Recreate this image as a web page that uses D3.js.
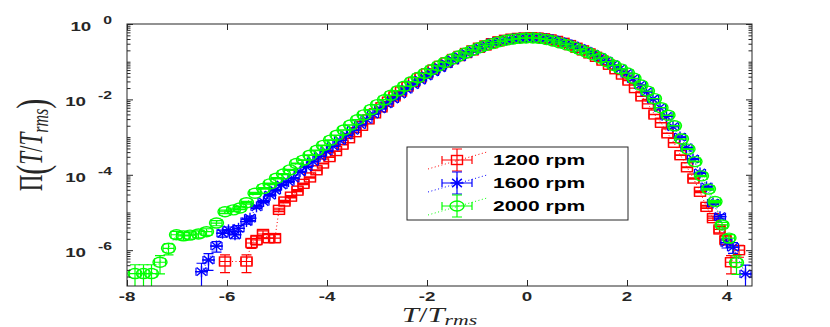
<!DOCTYPE html>
<html><head><meta charset="utf-8">
<script src="https://cdn.jsdelivr.net/npm/d3@7"></script>
<style>body{margin:0;background:#fff;} svg{display:block;}</style>
</head><body>
<svg id="chart" width="830" height="327"></svg>
<script>
// ---------------- DATA ----------------
const seriesNames = ["1200 rpm", "1600 rpm", "2000 rpm"];
const seriesColors = ["#ff0000", "#0000ff", "#00ff00"];
const seriesMarkers = ["square", "asterisk", "circle"];
const xTickValues = [-8, -6, -4, -2, 0, 2, 4];
const yTickExponents = [0, -2, -4, -6];

// T/T_rms and log10 of PDF for each series
const x1200 = [-6.04,-5.61,-5.51,-5.41,-5.28,-5.17,-5.04,-4.96,-4.85,-4.72,-4.59,-4.47,-4.34,-4.21,-4.08,-3.95,-3.82,-3.69,-3.56,-3.43,-3.30,-3.17,-3.04,-2.91,-2.78,-2.65,-2.52,-2.39,-2.26,-2.13,-2.00,-1.87,-1.74,-1.61,-1.48,-1.35,-1.22,-1.09,-0.96,-0.83,-0.70,-0.57,-0.44,-0.31,-0.18,-0.05,0.08,0.21,0.34,0.47,0.60,0.73,0.86,0.99,1.12,1.25,1.38,1.51,1.64,1.77,1.90,2.03,2.16,2.29,2.42,2.55,2.68,2.81,2.94,3.07,3.20,3.33,3.46,3.59,3.72,3.85,3.97,4.08,4.24];
const logPdf1200 = [-6.30,-6.30,-5.81,-5.73,-5.57,-5.68,-5.68,-4.93,-4.71,-4.58,-4.42,-4.24,-4.07,-3.88,-3.70,-3.53,-3.37,-3.20,-3.03,-2.87,-2.70,-2.53,-2.37,-2.21,-2.06,-1.92,-1.79,-1.66,-1.54,-1.42,-1.31,-1.21,-1.11,-1.02,-0.93,-0.85,-0.77,-0.70,-0.63,-0.57,-0.51,-0.46,-0.42,-0.39,-0.37,-0.36,-0.35,-0.36,-0.38,-0.41,-0.45,-0.50,-0.56,-0.63,-0.70,-0.78,-0.87,-0.97,-1.08,-1.20,-1.34,-1.50,-1.70,-1.92,-2.12,-2.40,-2.62,-2.90,-3.15,-3.48,-3.80,-4.10,-4.45,-4.85,-5.15,-5.45,-5.73,-6.32,-6.00];

const x1600 = [-6.51,-6.37,-6.21,-6.09,-5.97,-5.84,-5.77,-5.61,-5.54,-5.41,-5.27,-5.14,-5.04,-4.91,-4.77,-4.67,-4.54,-4.41,-4.28,-4.14,-4.01,-3.88,-3.74,-3.61,-3.48,-3.34,-3.21,-3.08,-2.94,-2.81,-2.68,-2.54,-2.41,-2.28,-2.14,-2.01,-1.88,-1.74,-1.61,-1.48,-1.34,-1.21,-1.08,-0.94,-0.81,-0.68,-0.54,-0.41,-0.28,-0.14,-0.01,0.12,0.26,0.39,0.52,0.66,0.79,0.92,1.06,1.19,1.32,1.46,1.59,1.72,1.86,1.99,2.12,2.26,2.39,2.52,2.66,2.79,2.92,3.06,3.19,3.32,3.46,3.59,3.72,3.86,3.99,4.12,4.37];
const logPdf1600 = [-6.57,-6.26,-5.89,-5.55,-5.46,-5.59,-5.42,-5.24,-5.15,-4.85,-4.71,-4.54,-4.41,-4.27,-4.18,-4.09,-3.92,-3.79,-3.65,-3.51,-3.37,-3.24,-3.09,-2.95,-2.82,-2.67,-2.53,-2.39,-2.25,-2.12,-1.99,-1.86,-1.73,-1.61,-1.49,-1.38,-1.27,-1.16,-1.06,-0.96,-0.87,-0.78,-0.70,-0.63,-0.56,-0.50,-0.46,-0.42,-0.39,-0.37,-0.36,-0.36,-0.37,-0.39,-0.42,-0.47,-0.52,-0.58,-0.65,-0.72,-0.80,-0.89,-0.98,-1.08,-1.19,-1.31,-1.45,-1.62,-1.80,-1.99,-2.22,-2.45,-2.72,-3.00,-3.28,-3.58,-3.95,-4.32,-4.75,-5.11,-5.80,-5.92,-6.63];

const x2000 = [-7.84,-7.67,-7.51,-7.34,-7.17,-7.01,-6.87,-6.74,-6.57,-6.41,-6.21,-6.04,-5.87,-5.74,-5.61,-5.44,-5.27,-5.14,-5.01,-4.87,-4.74,-4.61,-4.47,-4.34,-4.20,-4.07,-3.93,-3.80,-3.66,-3.53,-3.39,-3.26,-3.12,-2.99,-2.85,-2.72,-2.58,-2.45,-2.31,-2.18,-2.04,-1.91,-1.77,-1.64,-1.50,-1.37,-1.23,-1.10,-0.96,-0.83,-0.69,-0.56,-0.42,-0.29,-0.15,-0.02,0.12,0.25,0.39,0.52,0.66,0.79,0.93,1.06,1.20,1.33,1.47,1.60,1.74,1.87,2.01,2.14,2.28,2.41,2.55,2.68,2.82,2.95,3.09,3.22,3.36,3.49,3.63,3.76,3.90,4.04,4.19];
const logPdf2000 = [-6.62,-6.62,-6.62,-6.32,-5.95,-5.59,-5.62,-5.60,-5.57,-5.51,-5.28,-4.98,-4.93,-4.88,-4.74,-4.49,-4.36,-4.24,-4.09,-3.98,-3.87,-3.70,-3.61,-3.48,-3.35,-3.22,-3.08,-2.95,-2.81,-2.68,-2.54,-2.41,-2.27,-2.14,-2.01,-1.89,-1.77,-1.65,-1.53,-1.42,-1.31,-1.21,-1.11,-1.02,-0.93,-0.85,-0.77,-0.70,-0.63,-0.57,-0.52,-0.47,-0.43,-0.40,-0.38,-0.37,-0.37,-0.38,-0.41,-0.45,-0.50,-0.55,-0.61,-0.68,-0.75,-0.82,-0.90,-1.00,-1.10,-1.19,-1.30,-1.44,-1.62,-1.78,-1.98,-2.22,-2.42,-2.70,-3.05,-3.32,-3.65,-4.03,-4.38,-4.71,-5.33,-5.68,-6.33];

const xErrorHalfWidth = 0.11;      // horizontal error bar half width (T/T_rms units)
const yRelErrorCoef = 3.5e-4;      // relative counting error coefficient

// ---------------- LAYOUT ----------------
const plot = {left: 127, right: 752, top: 24, bottom: 286};
const SX = 1.5; // horizontal stretch of the original figure (text & markers)
const axisColor = "#262626";
const sansFont = "'Liberation Sans', Arial, Helvetica, sans-serif";
const serifFont = "'Liberation Serif', 'Times New Roman', 'DejaVu Serif', serif";

const svg = d3.select("#chart");
const x = d3.scaleLinear().domain([-8, 4.5]).range([plot.left, plot.right]);
const y = d3.scaleLog().domain([Math.pow(10, -6.95), 1]).range([plot.bottom, plot.top]);

const series = [
  {name: seriesNames[0], color: seriesColors[0], marker: seriesMarkers[0], xs: x1200, ls: logPdf1200},
  {name: seriesNames[1], color: seriesColors[1], marker: seriesMarkers[1], xs: x1600, ls: logPdf1600},
  {name: seriesNames[2], color: seriesColors[2], marker: seriesMarkers[2], xs: x2000, ls: logPdf2000}
].map(s => ({...s, pts: s.xs.map((v, i) => ({x: v, y: Math.pow(10, s.ls[i])}))}));

svg.append("defs").append("clipPath").attr("id", "clip")
  .append("rect").attr("x", plot.left).attr("y", plot.top)
  .attr("width", plot.right - plot.left).attr("height", plot.bottom - plot.top);

const dataG = svg.append("g").attr("clip-path", "url(#clip)");

function drawMarker(g, type, cx, cy, color) {
  if (type === "square") {
    g.append("rect").attr("x", cx - 5.5).attr("y", cy - 4.5).attr("width", 11).attr("height", 9)
      .attr("fill", "none").attr("stroke", color).attr("stroke-width", 1.4);
  } else if (type === "circle") {
    g.append("ellipse").attr("cx", cx).attr("cy", cy).attr("rx", 7).attr("ry", 5)
      .attr("fill", "none").attr("stroke", color).attr("stroke-width", 1.4);
  } else {
    const rx = 6.5, ry = 5.5;
    const segs = [[-rx, 0, rx, 0], [0, -ry, 0, ry], [-rx * 0.75, -ry * 0.75, rx * 0.75, ry * 0.75], [-rx * 0.75, ry * 0.75, rx * 0.75, -ry * 0.75]];
    segs.forEach(sg => g.append("line").attr("x1", cx + sg[0]).attr("y1", cy + sg[1]).attr("x2", cx + sg[2]).attr("y2", cy + sg[3])
      .attr("stroke", color).attr("stroke-width", 1.4));
  }
}

function drawErrorBars(g, color, cx, cy, xl, xr, yt, yb, capH = 4, capW = 5) {
  const p = d3.path();
  p.moveTo(xl, cy); p.lineTo(xr, cy);
  p.moveTo(xl, cy - capH); p.lineTo(xl, cy + capH);
  p.moveTo(xr, cy - capH); p.lineTo(xr, cy + capH);
  p.moveTo(cx, yt); p.lineTo(cx, yb);
  p.moveTo(cx - capW, yt); p.lineTo(cx + capW, yt);
  p.moveTo(cx - capW, yb); p.lineTo(cx + capW, yb);
  g.append("path").attr("d", p.toString()).attr("fill", "none").attr("stroke", color).attr("stroke-width", 1.2);
}

series.forEach(s => {
  const g = dataG.append("g");
  const line = d3.line().x(d => x(d.x)).y(d => y(d.y));
  g.append("path").attr("d", line(s.pts)).attr("fill", "none").attr("stroke", s.color)
    .attr("stroke-width", 1).attr("stroke-dasharray", "1,2.5");
  s.pts.forEach(d => {
    const rel = Math.min(yRelErrorCoef / Math.sqrt(d.y), 0.75);
    const cx = x(d.x), cy = y(d.y);
    drawErrorBars(g, s.color, cx, cy, x(d.x - xErrorHalfWidth), x(d.x + xErrorHalfWidth),
      y(d.y * (1 + rel)), y(d.y * (1 - rel)));
  });
  s.pts.forEach(d => drawMarker(g, s.marker, x(d.x), y(d.y), s.color));
});

// ---------------- AXES ----------------
const axG = svg.append("g");
axG.append("rect").attr("x", plot.left).attr("y", plot.top)
  .attr("width", plot.right - plot.left).attr("height", plot.bottom - plot.top)
  .attr("fill", "none").attr("stroke", axisColor).attr("stroke-width", 1);

const xAxisB = d3.axisBottom(x).tickValues(xTickValues).tickSize(-6).tickFormat("");
const xAxisT = d3.axisTop(x).tickValues(xTickValues).tickSize(-6).tickFormat("");
[[xAxisB, plot.bottom], [xAxisT, plot.top]].forEach(([ax, yy]) => {
  const g = axG.append("g").attr("transform", `translate(0,${yy})`).call(ax);
  g.select(".domain").remove();
  g.selectAll("line").attr("stroke", axisColor);
});

const decades = d3.range(-7, 1);
const minorVals = [];
decades.forEach(e => { for (let k = 1; k <= 9; k++) { const v = k * Math.pow(10, e); if (v >= y.domain()[0] && v <= 1 && !(k === 1 && yTickExponents.includes(e))) minorVals.push(v); } });
const majorVals = yTickExponents.map(e => Math.pow(10, e));
[[d3.axisLeft, plot.left], [d3.axisRight, plot.right]].forEach(([fn, xx]) => {
  const gMaj = axG.append("g").attr("transform", `translate(${xx},0)`).call(fn(y).tickValues(majorVals).tickSize(-6).tickFormat(""));
  gMaj.select(".domain").remove(); gMaj.selectAll("line").attr("stroke", axisColor);
  const gMin = axG.append("g").attr("transform", `translate(${xx},0)`).call(fn(y).tickValues(minorVals).tickSize(-3.5).tickFormat(""));
  gMin.select(".domain").remove(); gMin.selectAll("line").attr("stroke", axisColor);
});

// x tick labels
xTickValues.forEach(v => {
  svg.append("g").attr("transform", `translate(${x(v)},301) scale(${SX},1)`)
    .append("text").attr("text-anchor", "middle").attr("font-family", sansFont)
    .attr("font-weight", "bold").attr("font-size", 12.5).attr("fill", axisColor).text(String(v));
});

// y tick labels 10^e
yTickExponents.forEach(e => {
  const t = svg.append("g").attr("transform", `translate(112,${y(Math.pow(10, e)) + 7}) scale(${SX},1)`)
    .append("text").attr("text-anchor", "end").attr("font-family", sansFont)
    .attr("font-weight", "bold").attr("fill", axisColor);
  t.append("tspan").attr("font-size", 12.5).text("10");
  t.append("tspan").attr("font-size", 10.5).attr("dx", 8).attr("dy", -7).text(String(e));
});

// x label  T/T_rms
{
  const t = svg.append("g").attr("transform", `translate(${(plot.left + plot.right) / 2},322) scale(${SX},1)`)
    .append("text").attr("text-anchor", "middle").attr("font-family", serifFont).attr("fill", axisColor)
    .attr("font-size", 20.5);
  t.append("tspan").attr("font-style", "italic").text("T");
  t.append("tspan").text("/");
  t.append("tspan").attr("font-style", "italic").text("T");
  t.append("tspan").attr("font-style", "italic").attr("font-size", 14.5).attr("dy", 3).text("rms");
}

// y label  Π(T/T_rms)
{
  const t = svg.append("g").attr("transform", `translate(42,145) scale(${SX},1) rotate(-90)`)
    .append("text").attr("text-anchor", "middle").attr("font-family", serifFont).attr("fill", axisColor)
    .attr("font-size", 23);
  t.append("tspan").text("Π");
  t.append("tspan").attr("font-size", 30).attr("dy", 3).text("(");
  t.append("tspan").attr("font-style", "italic").attr("dy", -3).text("T");
  t.append("tspan").text("/");
  t.append("tspan").attr("font-style", "italic").text("T");
  t.append("tspan").attr("font-style", "italic").attr("font-size", 16).attr("dy", 4).text("rms");
  t.append("tspan").attr("font-size", 30).attr("dy", -1).text(")");
}

// ---------------- LEGEND ----------------
const lg = svg.append("g");
lg.append("rect").attr("x", 407).attr("y", 147).attr("width", 221).attr("height", 73)
  .attr("fill", "#fff").attr("stroke", axisColor).attr("stroke-width", 1);
const rowY = [160, 183, 206];
series.forEach((s, i) => {
  const cy = rowY[i], cx = 457;
  lg.append("line").attr("x1", cx - 29).attr("y1", cy + 9).attr("x2", cx + 30).attr("y2", cy - 8)
    .attr("stroke", s.color).attr("stroke-width", 1).attr("stroke-dasharray", "1,2.5");
  drawErrorBars(lg, s.color, cx, cy, cx - 15, cx + 15, cy - 11, cy + 11, 4, 5);
  drawMarker(lg, s.marker, cx, cy, s.color);
  lg.append("g").attr("transform", `translate(493,${cy + 5}) scale(${SX},1)`)
    .append("text").attr("font-family", sansFont).attr("font-weight", "bold").attr("font-size", 14)
    .attr("fill", "#000").text(s.name);
});
</script>
</body></html>
